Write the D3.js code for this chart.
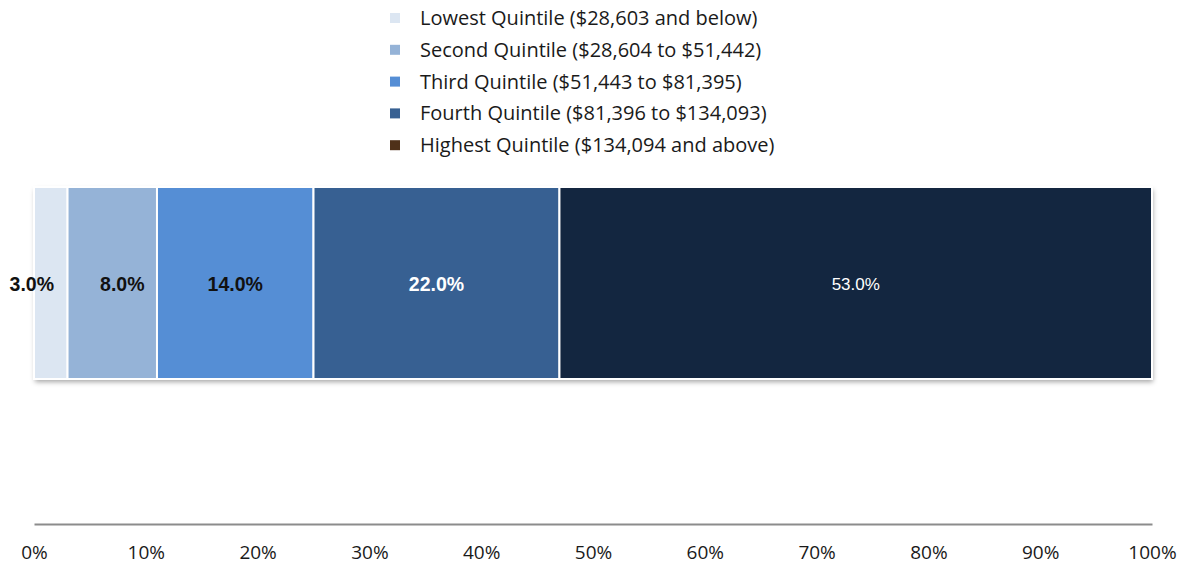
<!DOCTYPE html>
<html>
<head>
<meta charset="utf-8">
<script src="https://cdn.jsdelivr.net/npm/d3@7"></script>
<style>
  body { margin: 0; background: #fff; }
  svg { display: block; }
</style>
</head>
<body>
<div id="chart"></div>
<script>
// quintile shares of income, one stacked bar
const quintiles = ["Lowest", "Second", "Third", "Fourth", "Highest"];
const legendLabels = [
  "Lowest Quintile ($28,603 and below)",
  "Second Quintile ($28,604 to $51,442)",
  "Third Quintile ($51,443 to $81,395)",
  "Fourth Quintile ($81,396 to $134,093)",
  "Highest Quintile ($134,094 and above)"
];
const shares = [3, 8, 14, 22, 53];
const barColors = ["#dce6f2", "#95b3d7", "#558ed5", "#376092", "#132640"];
const legendColors = ["#dce6f2", "#95b3d7", "#558ed5", "#376092", "#4f3119"];
const labelColors = ["#111", "#111", "#111", "#fff", "#fff"];
const xTicks = [0, 10, 20, 30, 40, 50, 60, 70, 80, 90, 100];

const W = 1188, H = 568;
const left = 34, right = 1152;

const svg = d3.select("#chart").append("svg")
  .attr("width", W)
  .attr("height", H);

const defs = svg.append("defs");
const f = defs.append("filter").attr("id", "shadow")
  .attr("x", "-5%").attr("y", "-10%").attr("width", "110%").attr("height", "130%");
f.append("feDropShadow")
  .attr("dx", 1).attr("dy", 3).attr("stdDeviation", 2.5)
  .attr("flood-color", "#000").attr("flood-opacity", 0.35);

const x = d3.scaleLinear().domain([0, 100]).range([left, right]);
const y = d3.scaleBand().domain(["all"]).range([187, 379]).padding(0);

// stack the shares
let acc = 0;
const segs = shares.map((v, i) => {
  const s = { key: quintiles[i], v, x0: acc, x1: acc + v, i };
  acc += v;
  return s;
});

// bar background for the shadow
svg.append("rect")
  .attr("x", x(0))
  .attr("y", y("all"))
  .attr("width", x(100) - x(0))
  .attr("height", y.bandwidth())
  .attr("fill", "#fff")
  .attr("filter", "url(#shadow)");

svg.append("g")
  .selectAll("rect")
  .data(segs)
  .join("rect")
  .attr("x", d => x(d.x0))
  .attr("y", y("all"))
  .attr("width", d => x(d.x1) - x(d.x0))
  .attr("height", y.bandwidth())
  .attr("fill", d => barColors[d.i])
  .attr("stroke", "#fff")
  .attr("stroke-width", 2);

// value labels; narrow segments get nudged apart
svg.append("g")
  .selectAll("text")
  .data(segs)
  .join("text")
  .attr("x", d => {
    const c = (x(d.x0) + x(d.x1)) / 2;
    if (d.i === 0) return c - 19;
    if (d.i === 1) return c + 10;
    return c;
  })
  .attr("y", y("all") + y.bandwidth() / 2)
  .attr("dy", "0.4em")
  .attr("text-anchor", "middle")
  .attr("font-family", "'Liberation Sans', Arial, sans-serif")
  .attr("font-size", d => d.i === 4 ? 17 : 19.5)
  .attr("font-weight", d => d.i === 4 ? "normal" : "bold")
  .attr("fill", d => labelColors[d.i])
  .text(d => d.v.toFixed(1) + "%");

// x axis
const axis = svg.append("g")
  .attr("transform", "translate(0,524)")
  .call(d3.axisBottom(x).tickValues(xTicks).tickSize(0).tickPadding(22).tickFormat(d => d + "%"));
axis.select(".domain").attr("stroke", "#8c8c8c").attr("stroke-width", 2);
axis.selectAll("text")
  .attr("font-family", "'Open Sans', 'Noto Sans', sans-serif")
  .attr("font-size", 19)
  .attr("fill", "#1a1a1a");

// legend
const legend = svg.append("g")
  .selectAll("g")
  .data(legendLabels)
  .join("g")
  .attr("transform", (d, i) => `translate(390, ${18 + i * 31.8})`);

legend.append("rect")
  .attr("x", 0).attr("y", -5)
  .attr("width", 10).attr("height", 10)
  .attr("fill", (d, i) => legendColors[i]);

legend.append("text")
  .attr("x", 30)
  .attr("dy", "0.35em")
  .attr("font-family", "'Open Sans', 'Noto Sans', sans-serif")
  .attr("font-size", 20)
  .attr("fill", "#1a1a1a")
  .text(d => d);
</script>
</body>
</html>
